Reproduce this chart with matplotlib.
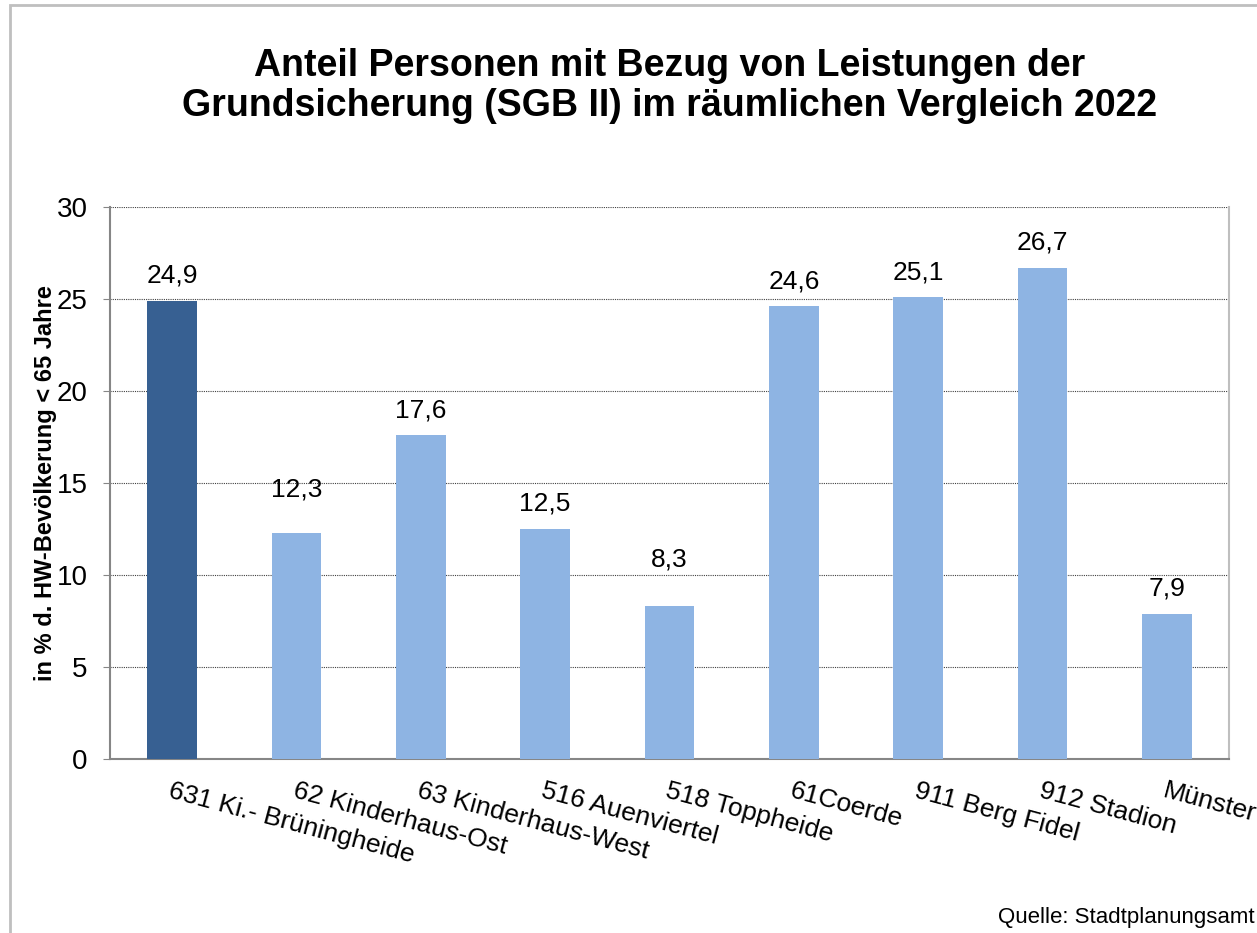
import matplotlib.pyplot as plt
from matplotlib.patches import Rectangle

plt.rcParams['font.family'] = ['Liberation Sans', 'DejaVu Sans']

categories = ['631 Ki.- Brüningheide', '62 Kinderhaus-Ost', '63 Kinderhaus-West',
              '516 Auenviertel', '518 Toppheide', '61Coerde', '911 Berg Fidel',
              '912 Stadion', 'Münster']
values = [24.9, 12.3, 17.6, 12.5, 8.3, 24.6, 25.1, 26.7, 7.9]
value_labels = ['24,9', '12,3', '17,6', '12,5', '8,3', '24,6', '25,1', '26,7', '7,9']
highlight = 0

dark = '#376092'
light = '#8EB4E3'

fig = plt.figure(figsize=(12.57, 9.33), dpi=100)
fig.patches.append(Rectangle((10 / 1257, -0.1), 1.2, 1.1 - 5 / 933,
                             transform=fig.transFigure, fill=False,
                             edgecolor='#BFBFBF', linewidth=2))

ax = fig.add_axes([110 / 1257, 1 - 759 / 933, 1119 / 1257, 552 / 933])
x = range(len(values))
colors = [dark if i == highlight else light for i in x]
ax.bar(x, values, width=0.4, color=colors, zorder=3)

# some labels sit higher in the original
extra = {1: 18, 4: 22}
for i, (v, lab) in enumerate(zip(values, value_labels)):
    ax.annotate(lab, (i, v), xytext=(0, 25 + extra.get(i, 0)),
                textcoords='offset pixels', ha='center', va='center',
                fontsize=19)

ax.set_xlim(-0.5, len(values) - 0.5)
ax.set_ylim(0, 30)
ax.set_yticks(range(0, 31, 5))
ax.tick_params(axis='y', labelsize=20, length=5, color='#868686', pad=11)
ax.grid(axis='y', color='#404040', linestyle=(0, (1, 1)), linewidth=0.8, zorder=0)
ax.set_xticks(list(x))
ax.set_xticklabels(categories, rotation=-15, ha='left', va='top',
                   rotation_mode='anchor', fontsize=19)
ax.tick_params(axis='x', length=0, pad=14)
ax.spines['top'].set_visible(False)
ax.spines['left'].set_color('#868686')
ax.spines['bottom'].set_color('#868686')
ax.spines['right'].set_color('#BFBFBF')
for s in ['left', 'bottom', 'right']:
    ax.spines[s].set_linewidth(1.5)
ax.set_ylabel('in % d. HW-Bevölkerung < 65 Jahre', fontsize=17,
              fontweight='bold')
ax.yaxis.set_label_coords(-0.0473, 0.5)

fig.text(670 / 1257, 1 - 86 / 933,
         'Anteil Personen mit Bezug von Leistungen der\n'
         'Grundsicherung (SGB II) im räumlichen Vergleich 2022',
         ha='center', va='center', fontsize=27, fontweight='bold',
         linespacing=1.15)
fig.text(1255 / 1257, 1 - 918 / 933, 'Quelle: Stadtplanungsamt',
         ha='right', va='center', fontsize=16)

fig.savefig('out.png', dpi=100)
